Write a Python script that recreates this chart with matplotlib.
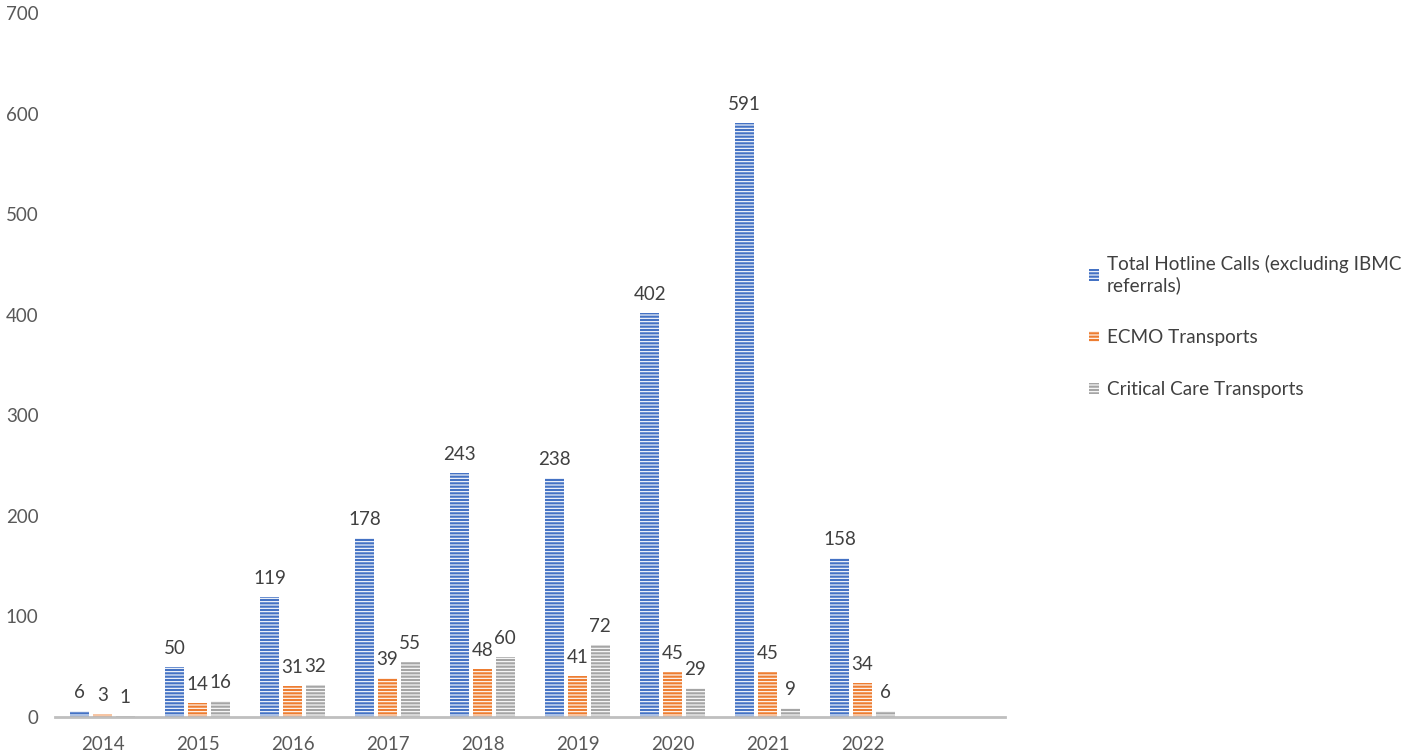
import matplotlib.pyplot as plt
import numpy as np

plt.rcParams['font.family'] = ['Lato', 'DejaVu Sans']
plt.rcParams['hatch.linewidth'] = 0.8

years = ["2014", "2015", "2016", "2017", "2018", "2019", "2020", "2021", "2022"]
hotline = [6, 50, 119, 178, 243, 238, 402, 591, 158]
ecmo = [3, 14, 31, 39, 48, 41, 45, 45, 34]
critical = [1, 16, 32, 55, 60, 72, 29, 9, 6]

series = [
    ("Total Hotline Calls (excluding IBMC\nreferrals)", hotline, "#4472C4"),
    ("ECMO Transports", ecmo, "#ED7D31"),
    ("Critical Care Transports", critical, "#A5A5A5"),
]

fig = plt.figure(figsize=(14.18, 7.56), dpi=100)
ax = fig.add_axes([0.0388, 0.0516, 0.67, 0.931])

x = np.arange(len(years))
width = 0.2
offsets = [-0.24, 0, 0.24]
for (label, vals, color), off in zip(series, offsets):
    bars = ax.bar(x + off, vals, width, color=color, edgecolor="#FFFFFF",
                  linewidth=0, hatch="-----", label=label)
    for b, v in zip(bars, vals):
        ax.text(b.get_x() + b.get_width() / 2, v + 10, str(v), ha="center",
                va="bottom", fontsize=13.5, color="#404040")

ax.set_xlim(-0.5, 9.5)
ax.set_ylim(0, 700)
ax.set_yticks(range(0, 701, 100))
ax.set_xticks(x)
ax.set_xticklabels(years)
ax.tick_params(length=0, labelsize=13.5, labelcolor="#595959")
ax.tick_params(axis="x", pad=14)
ax.tick_params(axis="y", pad=12)
for s in ["top", "right", "left"]:
    ax.spines[s].set_visible(False)
ax.spines["bottom"].set_color("#BFBFBF")
ax.spines["bottom"].set_linewidth(2)

leg = ax.legend(loc="upper left", bbox_to_anchor=(1.07, 0.68), frameon=False,
                fontsize=13.6, handlelength=0.55, handleheight=0.55,
                handletextpad=0.4, labelspacing=1.85, labelcolor="#404040")

fig.savefig("out.png", dpi=100)
